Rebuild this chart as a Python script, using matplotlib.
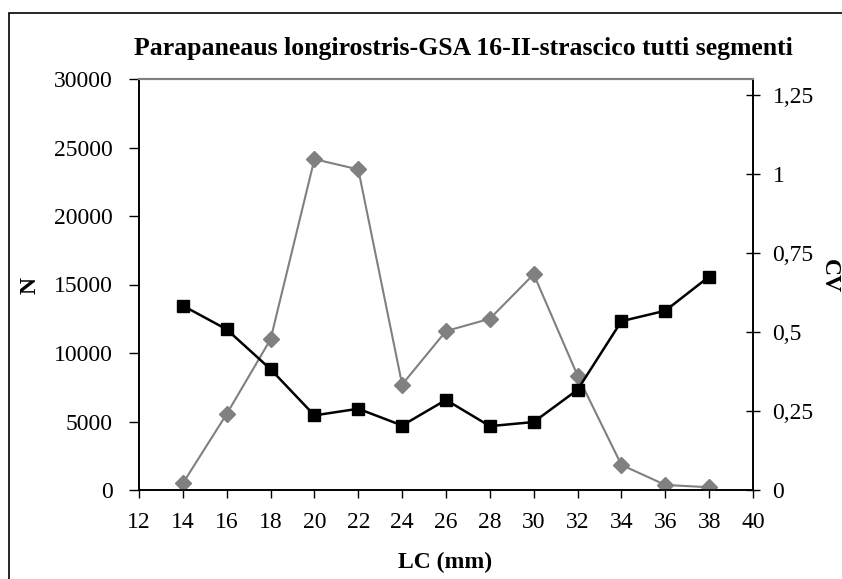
import matplotlib
matplotlib.use("Agg")
import matplotlib.pyplot as plt
from matplotlib.patches import Rectangle
from matplotlib.ticker import FuncFormatter

# Length classes (mm)
lc = [14, 16, 18, 20, 22, 24, 26, 28, 30, 32, 34, 36, 38]
# Abundance index N
n_values = [490, 5550, 11000, 24150, 23400, 7700, 11600, 12500, 15750, 8350, 1830, 370, 200]
# Coefficient of variation
cv_values = [0.583, 0.508, 0.382, 0.236, 0.257, 0.204, 0.285, 0.202, 0.215, 0.317, 0.534, 0.567, 0.675]

title = "Parapaneaus longirostris-GSA 16-II-strascico tutti segmenti"
x_ticks = list(range(12, 41, 2))
n_ticks = [0, 5000, 10000, 15000, 20000, 25000, 30000]
cv_ticks = [0, 0.25, 0.5, 0.75, 1, 1.25]

plt.rcParams["font.family"] = ["Liberation Serif", "DejaVu Serif"]

W, H = 842, 579
fig = plt.figure(figsize=(W / 100, H / 100), dpi=100)
ax = fig.add_axes([139 / W, 1 - 490 / H, (753 - 139) / W, (490 - 79) / H])
ax2 = ax.twinx()

# outer chart frame
fig.patches.append(Rectangle((9 / W, -0.1), 2, 1 - 13 / H + 0.1, transform=fig.transFigure,
                             fill=False, edgecolor="black", linewidth=1.2))

ax.plot(lc, n_values, color="#808080", linewidth=1.5, marker="D", markersize=8,
        markerfacecolor="#808080", markeredgecolor="#808080", zorder=3)
ax2.plot(lc, cv_values, color="black", linewidth=1.8, marker="s", markersize=8.5,
         markerfacecolor="black", markeredgecolor="black", zorder=3)

ax.set_xlim(12, 40)
ax.set_ylim(0, 30000)
ax2.set_ylim(0, 1.3)
ax.set_xticks(x_ticks)
ax.set_yticks(n_ticks)
ax2.set_yticks(cv_ticks)
ax2.yaxis.set_major_formatter(FuncFormatter(lambda v, p: ("%g" % v).replace(".", ",")))

fs = 17
ax.tick_params(axis="x", direction="out", length=6, width=1, labelsize=fs, pad=10)
ax.tick_params(axis="y", direction="out", length=7, width=1, labelsize=fs, pad=12)
ax2.tick_params(axis="y", direction="inout", length=10, width=1, labelsize=fs, pad=9)

for a in (ax, ax2):
    a.spines["top"].set_color("#808080")
    a.spines["top"].set_linewidth(1.5)
    for s in ("left", "right", "bottom"):
        a.spines[s].set_color("black")
        a.spines[s].set_linewidth(1.2)

fig.text(463 / W, 1 - 49 / H, title, ha="center", va="center", fontsize=18.5, fontweight="bold")
fig.text(445 / W, 1 - 562 / H, "LC (mm)", ha="center", va="center", fontsize=17, fontweight="bold")
fig.text(30 / W, 1 - 285 / H, "N", ha="center", va="center", fontsize=17, fontweight="bold", rotation=90)
fig.text(829 / W, 1 - 276 / H, "CV", ha="center", va="center", fontsize=17, fontweight="bold", rotation=-90)

fig.savefig("out.png", dpi=100)
